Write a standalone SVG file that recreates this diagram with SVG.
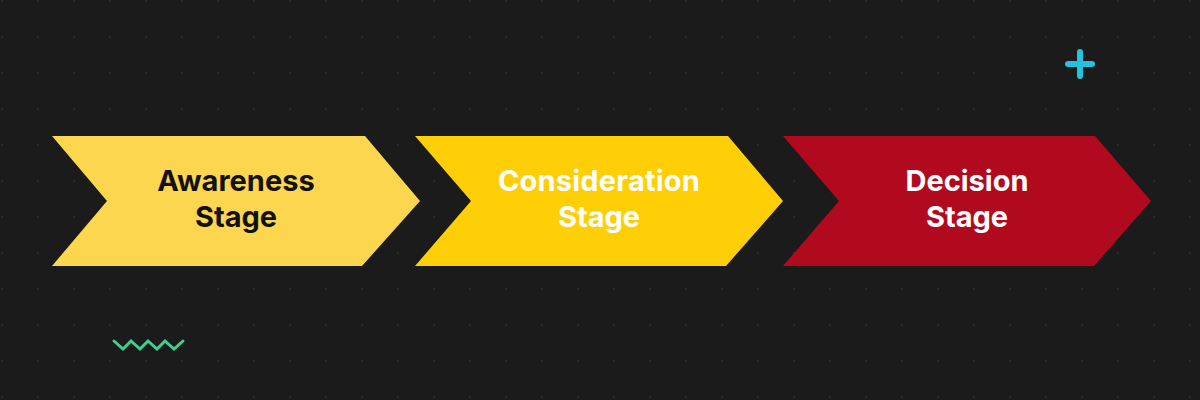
<svg xmlns="http://www.w3.org/2000/svg" width="1200" height="400" viewBox="0 0 1200 400">
  <defs>
    <pattern id="dots" x="0" y="0" width="36" height="36" patternUnits="userSpaceOnUse" patternTransform="translate(2 1)">
      <circle cx="0" cy="0" r="1.3" fill="#2a2a26"/>
      <circle cx="36" cy="0" r="1.3" fill="#2a2a26"/>
      <circle cx="0" cy="36" r="1.3" fill="#2a2a26"/>
      <circle cx="36" cy="36" r="1.3" fill="#2a2a26"/>
    </pattern>
    <style>
      .lbl { font-family: "Inter", "Liberation Sans", sans-serif; font-weight: 700; font-size: 29px; text-anchor: middle; }
      .dark { fill: #111111; }
      .light { fill: #ffffff; }
    </style>
  </defs>
  <rect width="1200" height="400" fill="#1b1b1b"/>
  <rect width="1200" height="400" fill="url(#dots)"/>

  <g id="awareness">
    <polygon points="52,136 365,136 420,201 362,266 52,266 107,201" fill="#fdd64f"/>
    <text class="lbl dark" x="236" y="191">Awareness</text>
    <text class="lbl dark" x="236" y="227">Stage</text>
  </g>
  <g id="consideration">
    <polygon points="415,136 728,136 783,201 726,266 415,266 471,201" fill="#fecf07"/>
    <text class="lbl light" x="599" y="191" letter-spacing="0.2">Consideration</text>
    <text class="lbl light" x="599" y="227">Stage</text>
  </g>
  <g id="decision">
    <polygon points="783,136 1095,136 1151,201 1094,266 783,266 839,201" fill="#b10a1f"/>
    <text class="lbl light" x="967" y="191">Decision</text>
    <text class="lbl light" x="967" y="227">Stage</text>
  </g>

  <g id="connectors"></g>

  <g id="decor">
    <path d="M1068,64 H1092 M1080,52 V76" stroke="#26c1dc" stroke-width="6" stroke-linecap="round" fill="none"/>
    <polyline points="114,341 123,349 131,341 140,349 148,341 157,349 165,341 174,349 183,341" stroke="#3fd08f" stroke-width="3" stroke-linecap="round" stroke-linejoin="miter" fill="none"/>
  </g>
</svg>
